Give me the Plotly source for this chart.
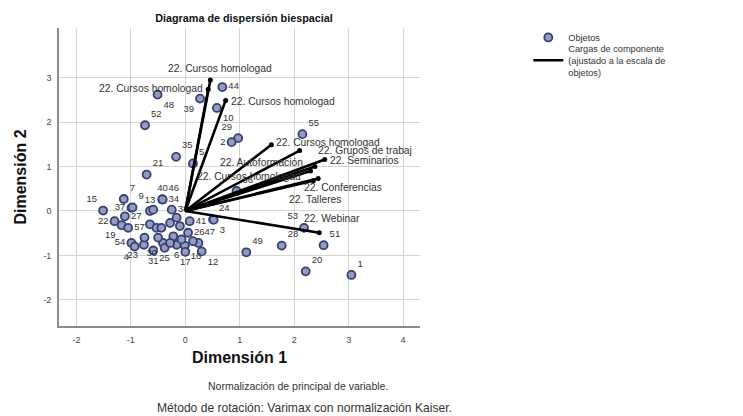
import plotly.graph_objects as go

# ---------------- data ----------------
obj_labels = ["44", "48", "39", "10", "52", "29", "2", "55", "35", "5", "21", "36",
              "34", "46", "40", "15", "7", "37", "9", "13", "38", "22", "19", "27", "57",
              "54", "4", "23", "30", "31", "25", "6", "16", "17", "12", "47", "26", "41",
              "24", "3", "", "", "", "", "", "", "", "", "", "", "", "", "",
              "49", "28", "53", "51", "20", "1"]
obj_x = [0.68, -0.51, 0.27, 0.58, -0.74, 0.97, 0.85, 2.15, -0.17, 0.14, -0.71, 0.94,
         -0.42, -0.42, -0.42, -1.51, -1.13, -0.99, -0.97, -0.65, -0.25, -1.30, -1.17, -1.11, -1.05,
         -0.99, -0.93, -0.76, -0.41, -0.59, -0.38, -0.16, -0.01, 0.00, 0.30, 0.24, 0.05, 0.08,
         0.51, 0.52, -0.65, -0.53, -0.50, -0.28, -0.16, -0.10, -0.44, -0.22, -0.07, 0.14, -0.28, -0.59, -0.75,
         1.12, 1.77, 2.18, 2.54, 2.21, 3.05]
obj_y = [2.79, 2.62, 2.53, 2.32, 1.93, 1.64, 1.55, 1.73, 1.22, 1.07, 0.82, 0.45,
         0.26, 0.26, 0.26, 0.01, 0.27, 0.07, 0.08, 0.00, 0.03, -0.23, -0.32, -0.12, -0.38,
         -0.72, -0.80, -0.76, -0.72, -0.89, -0.83, -0.76, -0.78, -0.92, -0.91, -0.72, -0.49, -0.23,
         -0.19, -0.20, -0.30, -0.38, -0.60, -0.27, -0.15, -0.34, -0.38, -0.57, -0.64, -0.68, -0.72, 0.03, -0.60,
         -0.93, -0.78, -0.38, -0.77, -1.36, -1.44]

load_labels = ["22. Cursos homologad", "22. Cursos homologad", "22. Cursos homologad",
               "22. Cursos homologad", "22. Grupos de trabaj", "22. Seminarios",
               "22. Autoformación", "22. Cursos homologad", "22. Conferencias",
               "22. Talleres", "22. Webinar"]
load_x = [0.46, 0.42, 0.74, 1.58, 2.10, 2.56, 2.38, 2.30, 2.44, 2.35, 2.46]
load_y = [2.95, 2.74, 2.49, 1.49, 1.36, 1.16, 1.00, 0.90, 0.73, 0.68, -0.49]

x_ticks = [-2, -1, 0, 1, 2, 3, 4]
y_ticks = [-2, -1, 0, 1, 2, 3]

title_text = "Diagrama de dispersión biespacial"
x_title = "Dimensión 1"
y_title = "Dimensión 2"
legend_obj = "Objetos"
legend_load = "Cargas de componente<br>(ajustado a la escala de<br>objetos)"
footnotes = ["Normalización de principal de variable.",
             "Método de rotación: Varimax con normalización Kaiser."]

# ---------------- styles ----------------
obj_textpos = ["middle right", "bottom right", "bottom left", "bottom right", "top right",
               "top left", "middle left", "top right", "top right", "top right", "top right", "top right",
               "middle right", "top right", "top center", "top left", "top right", "middle left",
               "top right", "top center", "middle right", "middle left", "bottom left", "middle right",
               "middle right", "middle left", "bottom left", "bottom left", "bottom left",
               "bottom center", "bottom center", "bottom center", "bottom right", "bottom center",
               "bottom right", "top right", "middle right", "middle right", "top right", "bottom right"] \
              + ["middle right"] * 13 + ["top right", "top right", "top left", "top right", "top right", "top right"]

# label placement for loadings: (xanchor, xshift, yshift)
load_lab_style = [("center", 10, 11), ("right", -3, 1), ("left", 3, -1), ("left", 3, 2),
                  ("left", 16, 0), ("left", 3, -1), ("right", -10, 4), ("right", -8, -5),
                  ("left", -16, -9), ("left", -26, -19), ("left", -17, 14)]

FONT = "Liberation Sans, Arial, sans-serif"
TXT = "#333333"
PAGE = 8  # default page margin of the html body

fig = go.Figure()

lx, ly = [], []
for x, y in zip(load_x, load_y):
    lx += [0, x, None]
    ly += [0, y, None]

# objects
fig.add_trace(go.Scatter(x=obj_x, y=obj_y, mode="markers+text", text=obj_labels,
                         textposition=obj_textpos,
                         textfont=dict(family=FONT, size=9.5, color=TXT),
                         marker=dict(size=8, color="#969dba",
                                     line=dict(color="#34407a", width=1.8)),
                         name=legend_obj, showlegend=True, legend="legend", hoverinfo="skip"))

# component loadings (drawn on top), with end dots
fig.add_trace(go.Scatter(x=lx, y=ly, mode="lines",
                         line=dict(color="black", width=2.6),
                         name=legend_load, showlegend=True, legend="legend2", hoverinfo="skip"))
fig.add_trace(go.Scatter(x=load_x, y=load_y, mode="markers",
                         marker=dict(size=5, color="black"),
                         showlegend=False, hoverinfo="skip"))

for lab, x, y, (xa, xs, ys) in zip(load_labels, load_x, load_y, load_lab_style):
    fig.add_annotation(x=x, y=y, text=lab, showarrow=False, xanchor=xa, yanchor="middle",
                       xshift=xs, yshift=ys, font=dict(family=FONT, size=10.3, color=TXT))

# footnotes (paper coords below the plot area)
fig.add_annotation(x=0.663, y=-0.201, xref="paper", yref="paper", text=footnotes[0],
                   showarrow=False, xanchor="center", yanchor="middle",
                   font=dict(family=FONT, size=10.5, color=TXT))
fig.add_annotation(x=0.680, y=-0.274, xref="paper", yref="paper", text=footnotes[1],
                   showarrow=False, xanchor="center", yanchor="middle",
                   font=dict(family=FONT, size=12.1, color=TXT))

axis_common = dict(showgrid=True, gridcolor="#d4d4d4", gridwidth=1, zeroline=False,
                   showline=True, linecolor="#8c8c8c", linewidth=1.6, ticks="",
                   automargin=False, ticklabelstandoff=4,
                   tickfont=dict(family=FONT, size=9, color="#444444"))

legend_common = dict(xanchor="left", yanchor="top", itemwidth=30,
                     font=dict(family=FONT, size=9.2, color=TXT), tracegroupgap=0,
                     bgcolor="rgba(0,0,0,0)")

W, H = 743 - PAGE, 416 - PAGE
fig.update_layout(
    width=W, height=H,
    margin=dict(l=59 - PAGE, r=323, t=28 - PAGE, b=90),
    paper_bgcolor="white", plot_bgcolor="white",
    title=dict(text="<b>" + title_text + "</b>", x=(244 - PAGE) / W, xanchor="center",
               y=1 - (18 - PAGE) / H, yanchor="middle", font=dict(family=FONT, size=10.8, color="#111111")),
    xaxis=dict(range=[-2.32, 4.31], tickvals=x_ticks, ticktext=[str(v) for v in x_ticks],
               title=dict(text="<b>" + x_title + "</b>", font=dict(family=FONT, size=16, color="#111111"),
                          standoff=8),
               **axis_common),
    yaxis=dict(range=[-2.59, 4.12], tickvals=y_ticks, ticktext=[str(v) for v in y_ticks],
               title=dict(text="<b>" + y_title + "</b>", font=dict(family=FONT, size=16, color="#111111"),
                          standoff=13),
               **axis_common),
    legend=dict(x=1.30, y=1.017, **legend_common),
    legend2=dict(x=1.30, y=0.974, **legend_common),
    showlegend=True,
)

fig.write_html("out.html")
